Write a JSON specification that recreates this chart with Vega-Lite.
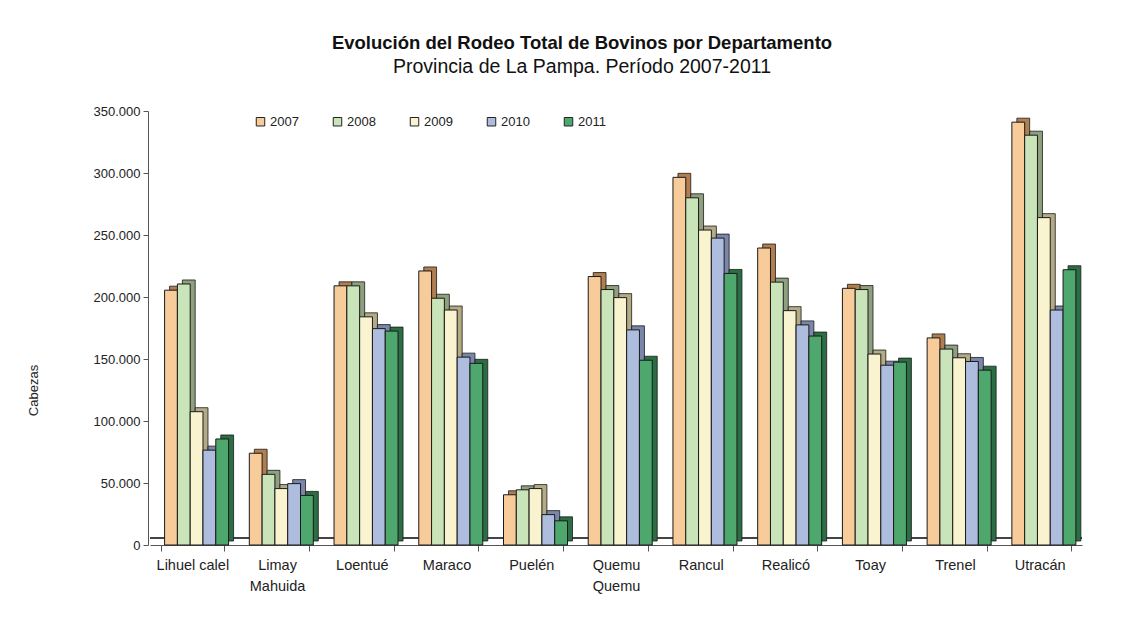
{
  "$schema": "https://vega.github.io/schema/vega-lite/v6.json",
  "autosize": "none",
  "width": 932,
  "height": 434,
  "padding": {"left": 150, "top": 111, "right": 61, "bottom": 72},
  "background": "white",
  "config": {
    "font": "Liberation Sans",
    "view": {"stroke": null}
  },
  "title": {
    "text": "Evolución del Rodeo Total de Bovinos por Departamento",
    "subtitle": "Provincia de La Pampa. Período 2007-2011",
    "font": "Liberation Sans",
    "fontSize": 18.5,
    "fontWeight": "bold",
    "color": "#111111",
    "subtitleFont": "Liberation Sans",
    "subtitleFontSize": 19.5,
    "subtitleColor": "#111111",
    "subtitlePadding": 5,
    "anchor": "middle",
    "frame": "group",
    "dx": -34,
    "offset": 29
  },
  "data": {
    "values": [
      {"dept": "Lihuel calel", "year": "2007", "value": 205500},
      {"dept": "Lihuel calel", "year": "2008", "value": 210500},
      {"dept": "Lihuel calel", "year": "2009", "value": 107500},
      {"dept": "Lihuel calel", "year": "2010", "value": 76500},
      {"dept": "Lihuel calel", "year": "2011", "value": 85500},
      {"dept": "Limay Mahuida", "year": "2007", "value": 74000},
      {"dept": "Limay Mahuida", "year": "2008", "value": 57000},
      {"dept": "Limay Mahuida", "year": "2009", "value": 45500},
      {"dept": "Limay Mahuida", "year": "2010", "value": 49500},
      {"dept": "Limay Mahuida", "year": "2011", "value": 40000},
      {"dept": "Loentué", "year": "2007", "value": 209000},
      {"dept": "Loentué", "year": "2008", "value": 209000},
      {"dept": "Loentué", "year": "2009", "value": 184000},
      {"dept": "Loentué", "year": "2010", "value": 174500},
      {"dept": "Loentué", "year": "2011", "value": 172500},
      {"dept": "Maraco", "year": "2007", "value": 221000},
      {"dept": "Maraco", "year": "2008", "value": 199000},
      {"dept": "Maraco", "year": "2009", "value": 189500},
      {"dept": "Maraco", "year": "2010", "value": 151500},
      {"dept": "Maraco", "year": "2011", "value": 146500},
      {"dept": "Puelén", "year": "2007", "value": 40500},
      {"dept": "Puelén", "year": "2008", "value": 44500},
      {"dept": "Puelén", "year": "2009", "value": 45500},
      {"dept": "Puelén", "year": "2010", "value": 24500},
      {"dept": "Puelén", "year": "2011", "value": 19500},
      {"dept": "Quemu Quemu", "year": "2007", "value": 216500},
      {"dept": "Quemu Quemu", "year": "2008", "value": 206000},
      {"dept": "Quemu Quemu", "year": "2009", "value": 199500},
      {"dept": "Quemu Quemu", "year": "2010", "value": 173500},
      {"dept": "Quemu Quemu", "year": "2011", "value": 149000},
      {"dept": "Rancul", "year": "2007", "value": 296500},
      {"dept": "Rancul", "year": "2008", "value": 280000},
      {"dept": "Rancul", "year": "2009", "value": 254000},
      {"dept": "Rancul", "year": "2010", "value": 247500},
      {"dept": "Rancul", "year": "2011", "value": 219000},
      {"dept": "Realicó", "year": "2007", "value": 239500},
      {"dept": "Realicó", "year": "2008", "value": 212000},
      {"dept": "Realicó", "year": "2009", "value": 189000},
      {"dept": "Realicó", "year": "2010", "value": 177500},
      {"dept": "Realicó", "year": "2011", "value": 168500},
      {"dept": "Toay", "year": "2007", "value": 207000},
      {"dept": "Toay", "year": "2008", "value": 206000},
      {"dept": "Toay", "year": "2009", "value": 154000},
      {"dept": "Toay", "year": "2010", "value": 145000},
      {"dept": "Toay", "year": "2011", "value": 147500},
      {"dept": "Trenel", "year": "2007", "value": 167000},
      {"dept": "Trenel", "year": "2008", "value": 158000},
      {"dept": "Trenel", "year": "2009", "value": 151000},
      {"dept": "Trenel", "year": "2010", "value": 148000},
      {"dept": "Trenel", "year": "2011", "value": 141000},
      {"dept": "Utracán", "year": "2007", "value": 341000},
      {"dept": "Utracán", "year": "2008", "value": 330500},
      {"dept": "Utracán", "year": "2009", "value": 264000},
      {"dept": "Utracán", "year": "2010", "value": 189500},
      {"dept": "Utracán", "year": "2011", "value": 222000}
    ]
  },
  "encoding": {
    "x": {
      "field": "dept",
      "type": "nominal",
      "sort": null,
      "scale": {"paddingInner": 0.25, "paddingOuter": 0.125},
      "axis": {
        "title": null,
        "labelAngle": 0,
        "labelFont": "Liberation Sans",
        "labelFontSize": 14.5,
        "labelColor": "#222222",
        "labelPadding": 7,
        "labelLineHeight": 21,
        "labelExpr": "datum.label == 'Limay Mahuida' ? ['Limay', 'Mahuida'] : datum.label == 'Quemu Quemu' ? ['Quemu', 'Quemu'] : datum.label",
        "tickBand": "extent",
        "tickSize": 6,
        "tickColor": "#555555",
        "domainColor": "#555555"
      }
    },
    "y": {
      "field": "value",
      "type": "quantitative",
      "scale": {"domain": [0, 350000], "nice": false},
      "axis": {
        "title": "Cabezas",
        "titleFont": "Liberation Sans",
        "titleFontSize": 13,
        "titleFontWeight": "normal",
        "titleColor": "#222222",
        "titleX": -115,
        "titleY": 279,
        "titleBaseline": "middle",
        "titleAngle": -90,
        "values": [0, 50000, 100000, 150000, 200000, 250000, 300000, 350000],
        "labelExpr": "replace(format(datum.value, ','), ',', '.')",
        "labelFont": "Liberation Sans",
        "labelFontSize": 13,
        "labelColor": "#222222",
        "labelPadding": 3,
        "grid": false,
        "tickSize": 5,
        "tickColor": "#555555",
        "domainColor": "#555555",
        "offset": 2
      }
    }
  },
  "layer": [
    {
      "mark": {"type": "rule", "yOffset": -7, "x2Offset": 12, "color": "#444444", "strokeWidth": 1},
      "encoding": {"y": {"datum": 0}, "x": null}
    },
    {
      "mark": {"type": "bar", "yOffset": -4, "y2Offset": -4, "stroke": "#1a1a1a", "strokeWidth": 0.8},
      "encoding": {
        "xOffset": {"field": "year", "type": "nominal", "scale": {"range": [9, 73]}},
        "color": {
          "field": "year",
          "type": "nominal",
          "scale": {"domain": ["2007", "2008", "2009", "2010", "2011"], "range": ["#b07e4f", "#8fa07f", "#b3ab86", "#7a86aa", "#2c6e44"]},
          "legend": null
        }
      }
    },
    {
      "mark": {"type": "bar", "stroke": "#1a1a1a", "strokeWidth": 1},
      "encoding": {
        "xOffset": {"field": "year", "type": "nominal", "scale": {"range": [4, 68]}},
        "fill": {
          "field": "year",
          "type": "nominal",
          "title": null,
          "scale": {"domain": ["2007", "2008", "2009", "2010", "2011"], "range": ["#f8cb9a", "#c9e4b9", "#faf3d0", "#aebcde", "#4ea86e"]},
          "legend": {
            "orient": "none",
            "legendX": 104,
            "legendY": 4,
            "direction": "horizontal",
            "symbolType": "square",
            "symbolSize": 72,
            "symbolStrokeColor": "#222222",
            "symbolStrokeWidth": 1,
            "labelFont": "Liberation Sans",
            "labelFontSize": 13,
            "labelColor": "#222222",
            "labelOffset": 3,
            "columnPadding": 32
          }
        }
      }
    }
  ],
  "resolve": {"scale": {"color": "independent", "xOffset": "independent"}}
}
